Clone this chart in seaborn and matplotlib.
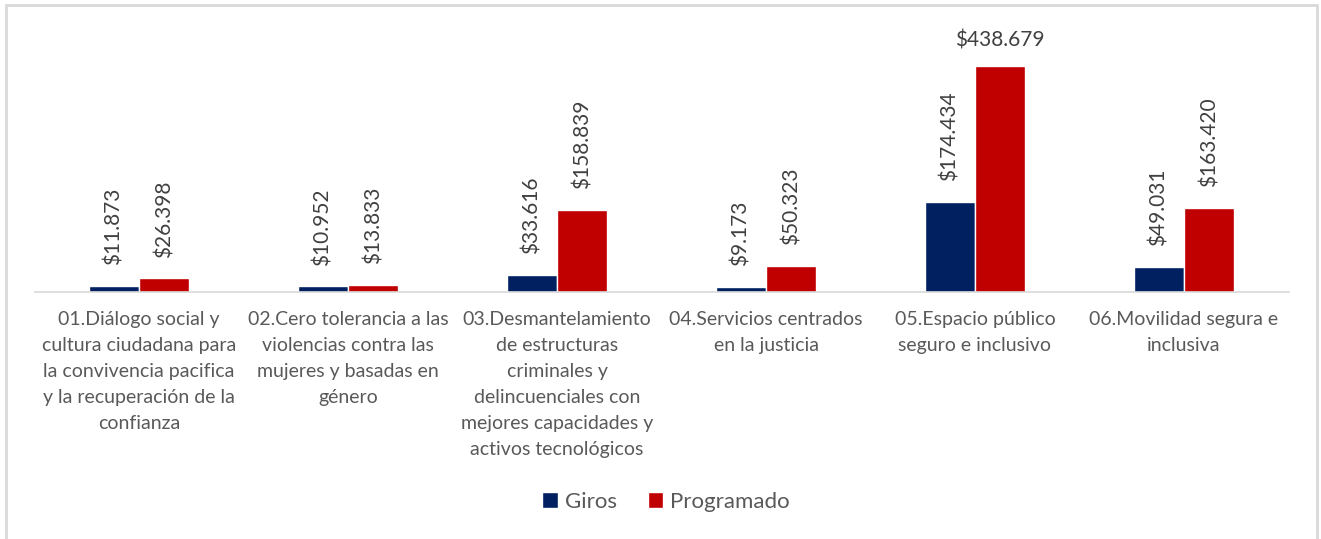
import pandas as pd
import seaborn as sns
import matplotlib.pyplot as plt
from matplotlib.patches import Rectangle

# datos (millones de pesos)
categorias = [
    "01.Diálogo social y\ncultura ciudadana para\nla convivencia pacifica\ny la recuperación de la\nconfianza",
    "02.Cero tolerancia a las\nviolencias contra las\nmujeres y basadas en\ngénero",
    "03.Desmantelamiento\nde estructuras\ncriminales y\ndelincuenciales con\nmejores capacidades y\nactivos tecnológicos",
    "04.Servicios centrados\nen la justicia",
    "05.Espacio público\nseguro e inclusivo",
    "06.Movilidad segura e\ninclusiva",
]
giros = [11.873, 10.952, 33.616, 9.173, 174.434, 49.031]
programado = [26.398, 13.833, 158.839, 50.323, 438.679, 163.420]
series = ["Giros", "Programado"]
colores = ["#002060", "#C00000"]

df = pd.DataFrame({
    "categoria": categorias * 2,
    "serie": [series[0]] * len(categorias) + [series[1]] * len(categorias),
    "valor": giros + programado,
})

sns.set_style("white")
plt.rcParams["font.family"] = ["Lato", "DejaVu Sans"]

fig = plt.figure(figsize=(13.21, 5.39), dpi=100)
ax = fig.add_axes([34.5 / 1321, 1 - 292 / 539, 1254 / 1321, 272 / 539])

sns.barplot(data=df, x="categoria", y="valor", hue="serie", palette=colores,
            width=0.48, gap=0, saturation=1, ax=ax, legend=True)

ax.set_ylim(0, 527)
ax.set_xlim(-0.5, len(categorias) - 0.5)
ax.set_xlabel("")
ax.set_ylabel("")
ax.set_yticks([])
for s in ["left", "right", "top"]:
    ax.spines[s].set_visible(False)
ax.spines["bottom"].set_color("#d9d9d9")
ax.spines["bottom"].set_linewidth(1.2)
ax.tick_params(axis="x", length=0, pad=14)
plt.setp(ax.get_xticklabels(), fontsize=14, color="#595959",
         linespacing=1.64, ha="center", va="top")

# etiquetas de datos
vmax = max(giros + programado)
for cont in ax.containers:
    for bar in cont:
        v = bar.get_height()
        x = bar.get_x() + bar.get_width() / 2
        txt = f"${v:.3f}"
        if v == vmax:
            ax.annotate(txt, (x, v), xytext=(0, 11), textcoords="offset points",
                        ha="center", va="bottom", fontsize=15, color="#404040")
        else:
            ax.annotate(txt, (x, v), xytext=(0, 15), textcoords="offset points",
                        ha="center", va="bottom", rotation=90, fontsize=15,
                        color="#404040")

leg = ax.legend(loc="center", bbox_to_anchor=(666 / 1321, 1 - 502 / 539), bbox_transform=fig.transFigure,
                ncol=2, frameon=False, fontsize=16, handlelength=0.7, handleheight=0.7,
                handletextpad=0.3, columnspacing=1.4)
for t in leg.get_texts():
    t.set_color("#595959")

# marco del grafico
fig.add_artist(Rectangle((6 / 1321, -0.02), 1311 / 1321, (534 / 539) + 0.02,
                         transform=fig.transFigure, fill=False,
                         edgecolor="#d9d9d9", linewidth=2))

fig.savefig("out.png", dpi=100, facecolor="white")
